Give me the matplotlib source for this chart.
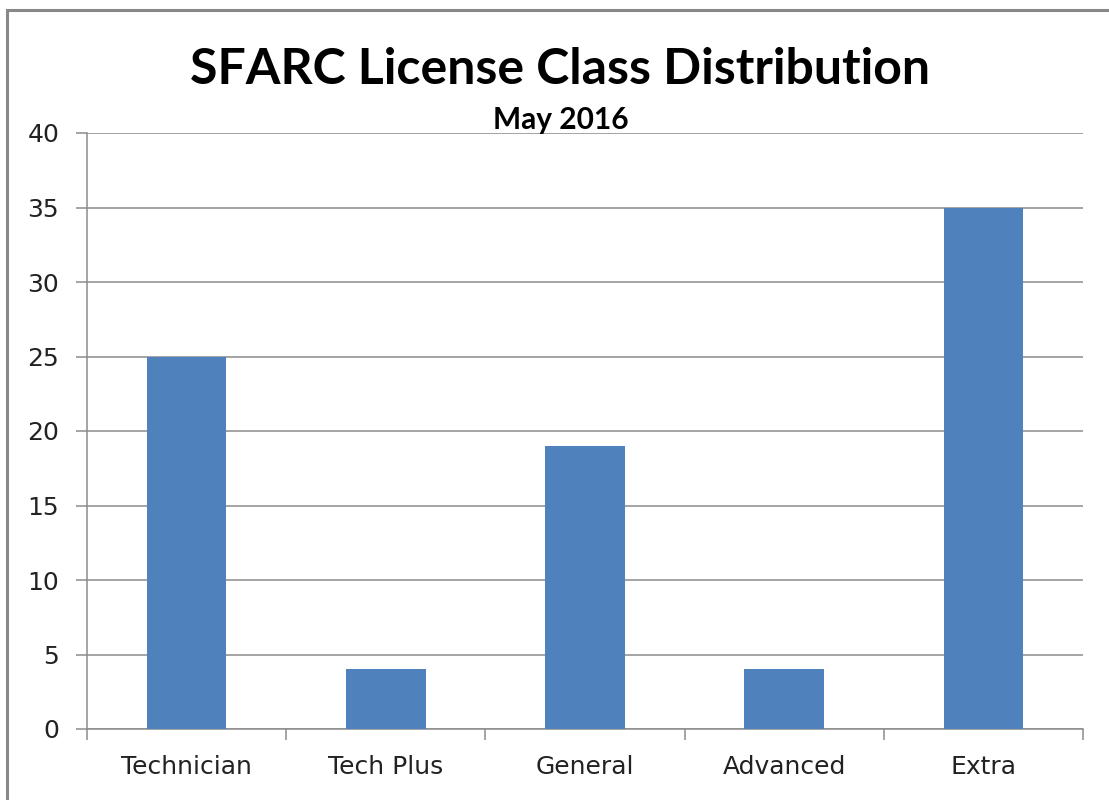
import matplotlib
matplotlib.use("Agg")
import matplotlib.pyplot as plt
from matplotlib.patches import Rectangle

categories = ["Technician", "Tech Plus", "General", "Advanced", "Extra"]
values = [25, 4, 19, 4, 35]
yticks = [0, 5, 10, 15, 20, 25, 30, 35, 40]

fig = plt.figure(figsize=(11.09, 8), dpi=100)
fig.patches.append(Rectangle((7/1109, -0.1), 1.2, 1 - 10/800 + 0.1, transform=fig.transFigure,
                             fill=False, edgecolor="#888888", linewidth=2.2))
ax = fig.add_axes([87/1109, 1 - 729/800, (1083 - 87)/1109, (729 - 133)/800])

x = list(range(len(categories)))
ax.bar(x, values, width=0.4, color="#4F81BD", zorder=3)
ax.set_xlim(-0.5, len(categories) - 0.5)
ax.set_ylim(0, 40)
ax.set_yticks(yticks)
ax.set_yticklabels([str(v) for v in yticks], fontsize=18, color="#222222")
ax.yaxis.grid(True, color="#8c8c8c", linewidth=1.1, zorder=0)
ax.set_xticks(x)
ax.set_xticklabels(categories, fontsize=18, color="#222222")
ax.set_xticks([i - 0.5 for i in range(len(categories) + 1)], minor=True)
ax.tick_params(axis="x", which="major", length=0, pad=19)
ax.tick_params(axis="x", which="minor", length=8, color="#8c8c8c", width=1.1)
ax.tick_params(axis="y", length=8, color="#8c8c8c", width=1.1, pad=12)
for s in ["top", "right"]:
    ax.spines[s].set_visible(False)
for s in ["left", "bottom"]:
    ax.spines[s].set_color("#8c8c8c")
    ax.spines[s].set_linewidth(1.1)

fig.text(0.505, 1 - 84/800, "SFARC License Class Distribution", ha="center", va="baseline",
         fontsize=36, fontweight="bold", family="Lato")
fig.text(0.506, 1 - 129/800, "May 2016", ha="center", va="baseline",
         fontsize=21.5, fontweight="bold", family="Lato")

fig.savefig("out.png", dpi=100, facecolor="white")
